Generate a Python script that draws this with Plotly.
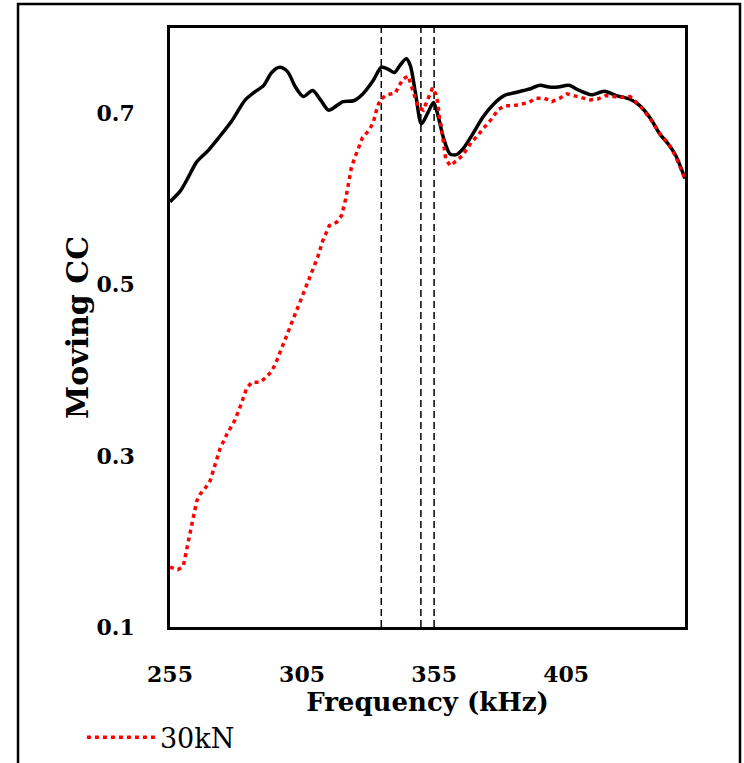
import plotly.graph_objects as go

# ---- data ----
freq_ref = [255, 259, 262, 265, 269.5, 273.5, 278.5, 283.5, 287, 290.5, 293.5, 296.5, 299.5,
            302.5, 305.5, 309, 312, 315, 318, 320.5, 324.5, 328, 332, 335, 337.5, 340, 342,
            344.5, 346, 348, 350.2, 352.8, 354.8, 356.6, 358.5, 361, 363.5, 366, 370, 373.5,
            377.5, 381.5, 385, 389, 391.5, 395, 398.5, 402, 406, 410, 414.5, 419.5, 424, 429,
            433, 437, 440.5, 443.5, 446.5, 450]
cc_ref = [0.597, 0.610, 0.626, 0.643, 0.657, 0.672, 0.692, 0.716, 0.725, 0.733, 0.748, 0.754, 0.749,
          0.731, 0.720, 0.727, 0.716, 0.704, 0.709, 0.714, 0.715, 0.723, 0.739, 0.754, 0.752, 0.748, 0.756,
          0.764, 0.756, 0.723, 0.688, 0.702, 0.713, 0.696, 0.672, 0.653, 0.652, 0.659, 0.678, 0.696,
          0.711, 0.721, 0.724, 0.727, 0.729, 0.733, 0.731, 0.731, 0.733, 0.727, 0.722, 0.726, 0.721, 0.717,
          0.709, 0.694, 0.676, 0.665, 0.651, 0.624]

freq_30kN = [255, 258, 260, 261.3, 262.6, 263.8, 265.1, 266.6, 268.5, 270.2, 272, 273.9, 276.5, 279.6,
             281.9, 284, 286, 289, 291.5, 293.5, 295, 297.2, 299.2, 301.5, 303.9, 306.4, 308.7, 310.9,
             312.8, 315.3, 318.1, 320, 321.5, 322.7, 323.7, 324.8, 326, 327.9, 330.5, 332, 333.5, 334.8,
             337.3, 340.3, 341.7, 343.1, 345.2, 346.2, 347.3, 348, 349, 350.9, 351.9, 353, 354.4, 355.6,
             356.4, 357, 357.7, 358.5, 359.4, 361.1, 363.6, 365.8, 367.7, 369.2, 371.5, 373.4, 375.6,
             379.4, 381.9, 384.8, 387.8, 390.9, 393.6, 396.7, 399.6, 402.6, 405.3, 408.2, 411.2, 414.1,
             417, 420, 422.9, 426.1, 429.2, 433, 436.8, 440.6, 443.7, 446.3, 450]
cc_30kN = [0.170, 0.167, 0.171, 0.190, 0.209, 0.229, 0.247, 0.256, 0.263, 0.271, 0.289, 0.308, 0.325, 0.342,
           0.360, 0.379, 0.386, 0.386, 0.392, 0.399, 0.408, 0.425, 0.443, 0.461, 0.479, 0.497, 0.515, 0.532,
           0.551, 0.569, 0.573, 0.581, 0.600, 0.619, 0.637, 0.647, 0.656, 0.672, 0.681, 0.690, 0.708, 0.717,
           0.722, 0.724, 0.732, 0.740, 0.744, 0.735, 0.725, 0.716, 0.707, 0.704, 0.712, 0.721, 0.730, 0.723,
           0.713, 0.695, 0.685, 0.667, 0.647, 0.639, 0.645, 0.651, 0.660, 0.667, 0.674, 0.682, 0.689,
           0.705, 0.709, 0.709, 0.711, 0.713, 0.718, 0.718, 0.714, 0.718, 0.723, 0.721, 0.718, 0.716,
           0.717, 0.721, 0.720, 0.719, 0.720, 0.709, 0.694, 0.676, 0.665, 0.651, 0.624]

marker_freqs = [335, 350, 355]
x_ticks = [255, 305, 355, 405]
y_ticks = [0.1, 0.3, 0.5, 0.7]

FONT = "DejaVu Serif"

fig = go.Figure()
fig.add_trace(go.Scatter(x=freq_ref, y=cc_ref, mode="lines", name="Reference",
                         line=dict(color="black", width=3.5, shape="spline", smoothing=0.8),
                         showlegend=False))
fig.add_trace(go.Scatter(x=freq_30kN, y=cc_30kN, mode="lines", name="30kN",
                         line=dict(color="#ff0000", width=3.5, dash="4px,4px")))

for f in marker_freqs:
    fig.add_shape(type="line", xref="x", yref="paper", x0=f, x1=f, y0=0, y1=1,
                  line=dict(color="black", width=1.5, dash="7px,4px"), layer="below")

# outer border
fig.add_shape(type="rect", xref="paper", yref="paper", x0=-0.2951, x1=1.1068, y0=-0.25, y1=1.0401,
              line=dict(color="black", width=2.5), fillcolor="rgba(0,0,0,0)")

fig.update_layout(
    width=744, height=763,
    margin=dict(l=170, r=59, t=28, b=136, autoexpand=False),
    paper_bgcolor="white", plot_bgcolor="white",
    font=dict(family=FONT, color="black"),
    legend=dict(x=-0.171, y=-0.185, xanchor="left", yanchor="middle", itemwidth=68,
                font=dict(family=FONT, size=27, color="black"), bgcolor="rgba(0,0,0,0)"),
)
fig.update_xaxes(range=[255, 450], tickvals=x_ticks, ticktext=[str(v) for v in x_ticks],
                 showgrid=False, zeroline=False, showline=True, mirror=True, automargin=False,
                 linecolor="black", linewidth=2.5, ticks="",
                 ticklabelstandoff=26,
                 tickfont=dict(family=FONT, size=22, color="black", weight="bold"),
                 title=dict(text="<b>Frequency (kHz)</b>", standoff=2,
                            font=dict(family=FONT, size=26, color="black")))
fig.update_yaxes(range=[0.1, 0.8], tickvals=y_ticks, ticktext=[f"{v:.1f}" for v in y_ticks],
                 showgrid=False, zeroline=False, showline=True, mirror=True, automargin=False,
                 linecolor="black", linewidth=2.5, ticks="",
                 ticklabelstandoff=28,
                 tickfont=dict(family=FONT, size=22, color="black", weight="bold"),
                 title=dict(text="<b>Moving CC</b>", standoff=0,
                            font=dict(family=FONT, size=30, color="black")))

fig.write_html("out.html")
